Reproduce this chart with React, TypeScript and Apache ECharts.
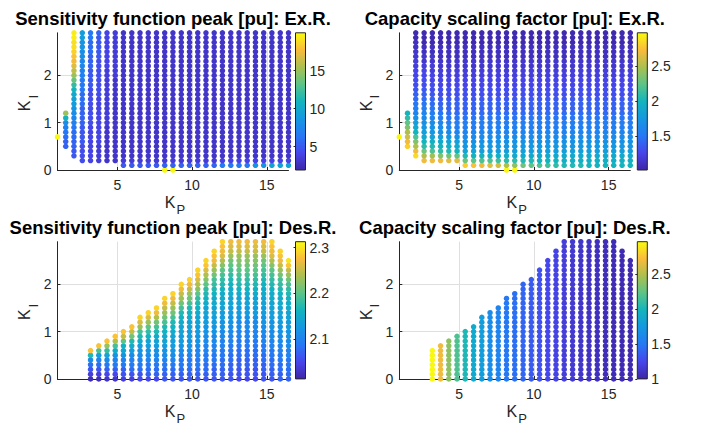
import React, { useEffect, useRef } from 'react';
import * as echarts from 'echarts';

// KP grid (columns) and KI grid (rows)
const KP = [1.0, 1.55, 2.1, 2.66, 3.21, 3.76, 4.31, 4.86, 5.41, 5.97, 6.52, 7.07, 7.62, 8.17, 8.72, 9.28, 9.83, 10.38, 10.93, 11.48, 12.03, 12.59, 13.14, 13.69, 14.24, 14.79, 15.34, 15.9, 16.45];
const KI = [0, 0.1, 0.2, 0.3, 0.4, 0.5, 0.6, 0.7, 0.8, 0.9, 1.0, 1.1, 1.2, 1.3, 1.4, 1.5, 1.6, 1.7, 1.8, 1.9, 2.0, 2.1, 2.2, 2.3, 2.4, 2.5, 2.6, 2.7, 2.8, 2.9];

// value codes: each character indexes into a per-panel list of levels
const CODE = '0123456789abcdefghijklmnopqrstuvwxyzABCD';

// Panel 1: Sensitivity function peak, Ex.R.
const sensExLevels = [2.5, 3.0, 3.5, 4.0, 4.5, 5.0, 5.5, 6.0, 6.5, 7.0, 7.5, 8.0, 8.5, 9.0, 9.5, 10, 11, 12, 13.5, 15, 16, 17, 17.5, 18, 18.5, 19, 19.5, 19.9];
// one string per KP column, characters from KI = 0 upward ('.' = no point)
const sensExCols = [
  '.......r',
  '.....66789bgj',
  '...55667789abcdefghijklmnoppqq',
  '..44445555666677788899aabbccdd',
  '..3333333344444444555566677788',
  '..2222333333333344444444555556',
  '..1111111122222222222233333333',
  '..1111111111111111112222222222',
  '.52111111111111111111111111111',
  '.52111111111111111111111111111',
  '.52111111111111111111111111111',
  '.52111111111111111111111111111',
  '.52111111111111111111111111111',
  'r62111111111111111111111111111',
  'r62111111111111111111111111111',
  '.62111111111111111111111111111',
  '.62111111111111111111111111111',
  '.62111111111111111111111111111',
  '.62111111111111111111111111111',
  '.62111111111111111111111111111',
  '.83111111111111111111111111111',
  '.83111111111111111111111111111',
  '.83111111111111111111111111111',
  '.83111111111111111111111111111',
  '.c3111111111111111111111111111',
  '.c3111111111111111111111111111',
  '.e3111111111111111111111111111',
  '.e3111111111111111111111111111',
  '.e3111111111111111111111111111',
];

// Panel 2: Capacity scaling factor, Ex.R.
const capLevels = [1.0, 1.05, 1.1, 1.15, 1.2, 1.25, 1.3, 1.35, 1.4, 1.45, 1.5, 1.55, 1.6, 1.65, 1.7, 1.75, 1.8, 1.85, 1.9, 1.95, 2.0, 2.05, 2.1, 2.15, 2.2, 2.25, 2.3, 2.35, 2.4, 2.45, 2.5, 2.55, 2.6, 2.65, 2.7, 2.75, 2.8, 2.85, 2.9, 2.95];
const capExCols = [
  '.......D',
  '.....Aywurpmk',
  '...Byurokigecba987665544332211',
  '..yuqmkigfedcba987665543322111',
  '..ytoljhfedcba9876655443322111',
  '..yrmkigedcba98766554433222111',
  '..xqljhfdcba988766554433222111',
  '..xpkigecbba988766554433222111',
  '.Aqlhfedcbba988766554433222111',
  '.zpkhfedcbba988766554433222111',
  '.yokgfedcbba988766554433222111',
  '.xojgfedcbba988766554433222111',
  '.wnjgfedcbba988766554433222111',
  'Dumjgfedcbba988766554433222111',
  'Dsmigfedcbba988766554433222111',
  '.qligfedcbba988766554433222111',
  '.pligfedcbba988766554433222111',
  '.okigfedcbba988766554433222111',
  '.nkigfedcbba988766554433222111',
  '.mkigfedcbba988766554433222111',
  '.ljigfedcbba988766554433222111',
  '.ljigfedcbba988766554433222111',
  '.ljigfedcbba988766554433222111',
  '.kjigfedcbba988766554433222111',
  '.kjigfedcbba988766554433222111',
  '.kjigfedcbba988766554433222111',
  '.kjigfedcbba988766554433222111',
  '.kjigfedcbba988766554433222111',
  '.kjigfedcbba988766554433222111',
];

// Panel 3: Sensitivity function peak, Des.R.
const sensDesLevels = [2.01, 2.02, 2.03, 2.04, 2.05, 2.06, 2.07, 2.08, 2.09, 2.1, 2.11, 2.12, 2.13, 2.14, 2.15, 2.16, 2.17, 2.18, 2.19, 2.2, 2.21, 2.22, 2.23, 2.24, 2.25, 2.26, 2.27, 2.28, 2.29, 2.3, 2.31];
const sensDesCols = [
  '',
  '',
  '',
  '',
  '1357agr',
  '13579cir',
  '2468adhmr',
  '24689beinr',
  '35689bdfjor',
  '35789acegkor',
  '45789abcegimps',
  '46789abcdfhjmps',
  '46789abcdegiknqs',
  '56789abcdefgikmoqs',
  '56789abccdefgikmoqs',
  '567889abccddefgikmoqs',
  '567889abbccddefgikmoqs',
  '5678899abbccddefghjlnprs',
  '56778899aabbccddefghjlnprs',
  '56678899aabbccddeefghikmoqrs',
  '566778899aabbccddeefghijlnpqrs',
  '5566778899aabbccddeefghijkmopq',
  '45566778899aabccddefghijklmopq',
  '45566778899aabccddefghijklmopq',
  '45566778899aabccddefghijklmopq',
  '5566778899aabbccddeefghijkmopq',
  '566778899aabbccddeefghijlnpqrs',
  '66778899aabbccddeefghikmoqrs',
  '6778899aabbccddeefghikmort',
];

// Panel 4: Capacity scaling factor, Des.R. (one value per column, same region as panel 3)
const desTopKI = [null, null, null, null, 0.6, 0.7, 0.8, 0.9, 1.0, 1.1, 1.3, 1.4, 1.5, 1.7, 1.8, 2.0, 2.1, 2.3, 2.5, 2.7, 2.9, 2.9, 2.9, 2.9, 2.9, 2.9, 2.9, 2.7, 2.5];
const capDesValues = [null, null, null, null, 2.95, 2.68, 2.38, 2.18, 2.02, 1.88, 1.78, 1.65, 1.58, 1.5, 1.45, 1.4, 1.35, 1.3, 1.25, 1.22, 1.18, 1.15, 1.12, 1.1, 1.08, 1.06, 1.05, 1.04, 1.03];

const PARULA = ['#3e26a8', '#4746eb', '#2678f5', '#1498e1', '#13b4be', '#5cc487', '#aac050', '#fabb3c', '#f9fb0e'];
const FONT = '"Liberation Sans", Arial, Helvetica, sans-serif';
const AX = '#262626';

function fromCols(cols: string[], levels: number[]) {
  const out: number[][] = [];
  cols.forEach((s, i) => {
    for (let r = 0; r < s.length; r++) {
      const c = s[r];
      if (c === '.') continue;
      out.push([KP[i], KI[r], levels[CODE.indexOf(c)]]);
    }
  });
  return out;
}

function capDesData() {
  const out: number[][] = [];
  KP.forEach((kp, i) => {
    const top = desTopKI[i];
    const v = capDesValues[i];
    if (top === null || v === null) return;
    KI.forEach((ki) => {
      if (ki <= top + 1e-9) out.push([kp, ki, v]);
    });
  });
  return out;
}

function buildOption() {
  const W = 231;
  const H = 137.2;
  const panels = [
    { title: 'Sensitivity function peak [pu]: Ex.R.', left: 57.5, top: 32.8, data: fromCols(sensExCols, sensExLevels), vmin: 1.92, vmax: 19.98, ticks: [5, 10, 15] },
    { title: 'Capacity scaling factor [pu]: Ex.R.', left: 399.3, top: 32.8, data: fromCols(capExCols, capLevels), vmin: 1.02, vmax: 2.97, ticks: [1.5, 2, 2.5] },
    { title: 'Sensitivity function peak [pu]: Des.R.', left: 57.5, top: 241.7, data: fromCols(sensDesCols, sensDesLevels), vmin: 2.012, vmax: 2.313, ticks: [2.1, 2.2, 2.3] },
    { title: 'Capacity scaling factor [pu]: Des.R.', left: 399.3, top: 241.7, data: capDesData(), vmin: 1.0, vmax: 2.96, ticks: [1, 1.5, 2, 2.5] },
  ];

  const grid: any[] = [];
  const xAxis: any[] = [];
  const yAxis: any[] = [];
  const series: any[] = [];
  const visualMap: any[] = [];
  const graphic: any[] = [];

  const gradient = new echarts.graphic.LinearGradient(0, 1, 0, 0,
    PARULA.map((c, k) => ({ offset: k / (PARULA.length - 1), color: c })));

  panels.forEach((p, k) => {
    const gi = grid.length;
    grid.push({ left: p.left, top: p.top, width: W, height: H, containLabel: false });
    xAxis.push({
      gridIndex: gi, type: 'value', min: 1, max: 16.45,
      axisLine: { show: true, onZero: false, lineStyle: { color: AX, width: 1 } },
      axisTick: { show: true, inside: true, length: 3, customValues: [5, 10, 15], lineStyle: { color: AX } },
      axisLabel: { customValues: [5, 10, 15], color: AX, fontSize: 14, margin: 8, fontFamily: FONT },
      splitLine: { show: true, lineStyle: { color: '#dfdfdf', width: 1 } },
    });
    yAxis.push({
      gridIndex: gi, type: 'value', min: 0, max: 2.9,
      axisLine: { show: true, onZero: false, lineStyle: { color: AX, width: 1 } },
      axisTick: { show: true, inside: true, length: 3, customValues: [0, 1, 2], lineStyle: { color: AX } },
      axisLabel: { customValues: [0, 1, 2], color: AX, fontSize: 14, margin: 6, fontFamily: FONT },
      splitLine: { show: true, lineStyle: { color: '#dfdfdf', width: 1 } },
    });
    series.push({
      type: 'scatter', xAxisIndex: gi, yAxisIndex: gi, data: p.data,
      symbol: 'circle', symbolSize: 5.5, silent: true, clip: false,
      itemStyle: { opacity: 1 }, emphasis: { disabled: true },
    });
    visualMap.push({
      type: 'continuous', show: false, seriesIndex: k, dimension: 2,
      min: p.vmin, max: p.vmax, inRange: { color: PARULA },
    });

    // colorbar
    const ci = grid.length;
    grid.push({
      left: p.left + 238, top: p.top, width: 10, height: H, show: true,
      backgroundColor: gradient, borderColor: AX, borderWidth: 1,
    });
    xAxis.push({ gridIndex: ci, type: 'value', show: false, min: 0, max: 1 });
    yAxis.push({
      gridIndex: ci, type: 'value', position: 'right', min: p.vmin, max: p.vmax,
      axisLine: { show: false },
      axisTick: { show: true, inside: true, length: 2, customValues: p.ticks, lineStyle: { color: AX } },
      axisLabel: { customValues: p.ticks, color: AX, fontSize: 14, margin: 4, fontFamily: FONT },
      splitLine: { show: false },
    });

    // title
    const cx = p.left + W / 2;
    graphic.push({
      type: 'text', x: cx, y: p.top - 14.3, silent: true,
      style: { text: p.title, font: `bold 18.5px ${FONT}`, fill: '#000', align: 'center', verticalAlign: 'middle' },
    });
    // x-axis name K_P
    const by = p.top + H;
    graphic.push({
      type: 'text', x: p.left + 112.5, y: by + 32.5, silent: true,
      style: { text: 'K', font: `16px ${FONT}`, fill: AX, align: 'center', verticalAlign: 'middle' },
    });
    graphic.push({
      type: 'text', x: p.left + 123.3, y: by + 39.5, silent: true,
      style: { text: 'P', font: `13px ${FONT}`, fill: AX, align: 'center', verticalAlign: 'middle' },
    });
    // y-axis name K_I
    const my = p.top + H / 2;
    graphic.push({
      type: 'text', x: p.left - 33.3, y: my + 4.4, rotation: Math.PI / 2, silent: true,
      style: { text: 'K', font: `16px ${FONT}`, fill: AX, align: 'center', verticalAlign: 'middle' },
    });
    graphic.push({
      type: 'text', x: p.left - 24.5, y: my - 4.6, rotation: Math.PI / 2, silent: true,
      style: { text: 'I', font: `13px ${FONT}`, fill: AX, align: 'center', verticalAlign: 'middle' },
    });
  });

  return {
    animation: false,
    backgroundColor: '#ffffff',
    textStyle: { fontFamily: FONT },
    grid, xAxis, yAxis, series, visualMap, graphic,
  };
}

export default function App() {
  const ref = useRef<HTMLDivElement>(null);
  useEffect(() => {
    if (!ref.current) return;
    const chart = echarts.init(ref.current, null, { renderer: 'svg' });
    chart.setOption(buildOption() as any);
    return () => chart.dispose();
  }, []);
  return (
    <div
      ref={ref}
      style={{ position: 'fixed', left: 0, top: 0, width: 710, height: 428, background: '#fff' }}
    />
  );
}
